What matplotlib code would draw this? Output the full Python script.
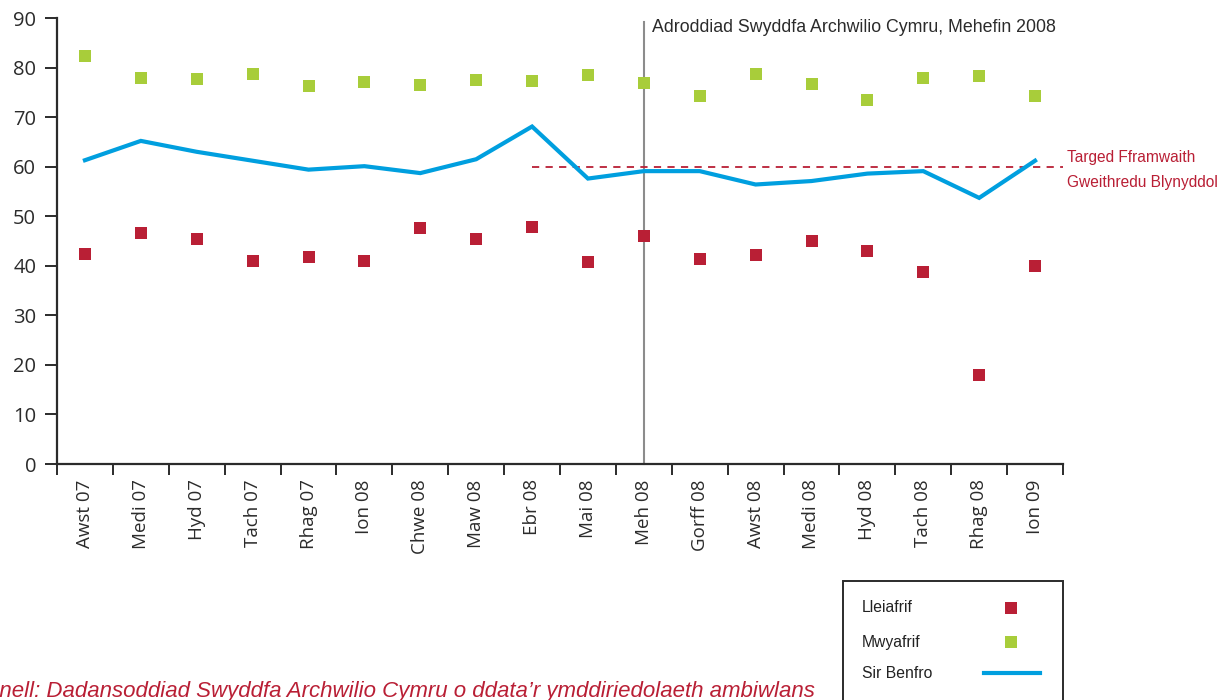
import numpy as np
import matplotlib.pyplot as plt
from matplotlib.patches import Rectangle
from matplotlib.lines import Line2D

# month labels (Welsh)
months = ["Awst 07", "Medi 07", "Hyd 07", "Tach 07", "Rhag 07", "Ion 08",
          "Chwe 08", "Maw 08", "Ebr 08", "Mai 08", "Meh 08", "Gorff 08",
          "Awst 08", "Medi 08", "Hyd 08", "Tach 08", "Rhag 08", "Ion 09"]

# values
lleiafrif = [42.4, 46.6, 45.4, 41.0, 41.8, 41.0, 47.6, 45.4, 47.8,
             40.8, 46.0, 41.4, 42.2, 45.0, 43.0, 38.7, 18.0, 40.0]
mwyafrif = [82.3, 77.9, 77.7, 78.7, 76.3, 77.1, 76.5, 77.5, 77.3,
            78.5, 76.9, 74.3, 78.7, 76.7, 73.4, 77.9, 78.3, 74.3]
sir_benfro = [61.3, 65.2, 63.0, 61.2, 59.4, 60.1, 58.7, 61.5, 68.1,
              57.6, 59.1, 59.1, 56.4, 57.1, 58.6, 59.1, 53.7, 61.2]

legend_labels = ["Lleiafrif", "Mwyafrif", "Sir Benfro"]

target = 60
target_start = "Ebr 08"
report_month = "Meh 08"

RED = "#b91f35"
GREEN = "#a8cd3a"
BLUE = "#009fdf"
DARK = "#2b2b2b"
TICKFONT = "Open Sans"
TEXTFONT = "Liberation Sans"

W, H = 1229, 700
fig = plt.figure(figsize=(W / 100, H / 100), dpi=100)
ax = fig.add_axes([57 / W, 1 - 464 / H, (1063 - 57) / W, (464 - 18) / H])

x = np.arange(len(months))

ax.plot(x, sir_benfro, color=BLUE, lw=3.0, solid_joinstyle="miter", zorder=3)
ax.plot(x, lleiafrif, "s", color=RED, ms=8.6, mew=0, zorder=4)
ax.plot(x, mwyafrif, "s", color=GREEN, ms=8.6, mew=0, zorder=4)

# target line from Ebr 08 to right edge
t0 = months.index(target_start)
ax.plot([t0, len(months) - 0.5], [target, target], color=RED, lw=1.3,
        dashes=(4, 3.5), zorder=2)
ax.text(len(months) - 0.42, target + 1.8, "Targed Fframwaith",
        color=RED, fontsize=11.2, family=TEXTFONT, va="center", ha="left",
        clip_on=False)
ax.text(len(months) - 0.42, target - 3.2, "Gweithredu Blynyddol",
        color=RED, fontsize=11.2, family=TEXTFONT, va="center", ha="left",
        clip_on=False)

# vertical marker for report
r = months.index(report_month)
ax.plot([r, r], [0, 89.2], color="#8c8c8c", lw=1.5, zorder=1, clip_on=False)
ax.text(r + 0.15, 88.1, "Adroddiad Swyddfa Archwilio Cymru, Mehefin 2008",
        color=DARK, fontsize=12.8, family=TEXTFONT, va="center", ha="left")

ax.set_xlim(-0.5, len(months) - 0.5)
ax.set_ylim(0, 90)
ax.set_yticks(np.arange(0, 91, 10))
ax.set_xticks(x)
ax.set_xticklabels(months, rotation=90, fontsize=13.5, family=TICKFONT,
                   color=DARK)
ax.set_xticks(np.arange(-0.5, len(months), 1), minor=True)
ax.tick_params(axis="x", which="major", length=0, pad=11)
ax.tick_params(axis="x", which="minor", length=8, width=1.4, color=DARK,
               direction="out")
ax.tick_params(axis="y", length=9, width=1.4, color=DARK, direction="out",
               labelsize=14.5, labelcolor=DARK, pad=6)
for lab in ax.get_yticklabels():
    lab.set_family(TICKFONT)

for s in ["top", "right"]:
    ax.spines[s].set_visible(False)
for s in ["left", "bottom"]:
    ax.spines[s].set_color(DARK)
    ax.spines[s].set_linewidth(1.6)

# legend box (cut off at the bottom edge), entries drawn by hand
fig.patches.append(Rectangle((843 / W, -0.05), (1063 - 843) / W,
                             0.05 + 1 - 581 / H, transform=fig.transFigure,
                             fill=False, edgecolor=DARK, lw=1.4))
legend_y = [608, 642, 673]
handles = [dict(ls="none", marker="s", color=RED, ms=8.6, mew=0),
           dict(ls="none", marker="s", color=GREEN, ms=8.6, mew=0),
           dict(color=BLUE, lw=3.0)]
for lbl, yy, h in zip(legend_labels, legend_y, handles):
    fy = 1 - yy / H
    fig.text(862 / W, fy, lbl, color="#222222", fontsize=11.3,
             family=TEXTFONT, va="center", ha="left")
    if h.get("marker"):
        fig.add_artist(Line2D([1011 / W], [fy], transform=fig.transFigure, **h))
    else:
        fig.add_artist(Line2D([984 / W, 1040 / W], [fy, fy],
                              transform=fig.transFigure, **h))

# source line, left part runs off the canvas as in the original
fig.text(815 / W, 1 - 697 / H,
         "Ffynhonnell: Dadansoddiad Swyddfa Archwilio Cymru o ddata\u2019r ymddiriedolaeth ambiwlans",
         color=RED, fontsize=16.0, style="italic", family=TEXTFONT,
         ha="right", va="baseline")

fig.savefig("out.png", dpi=100)
